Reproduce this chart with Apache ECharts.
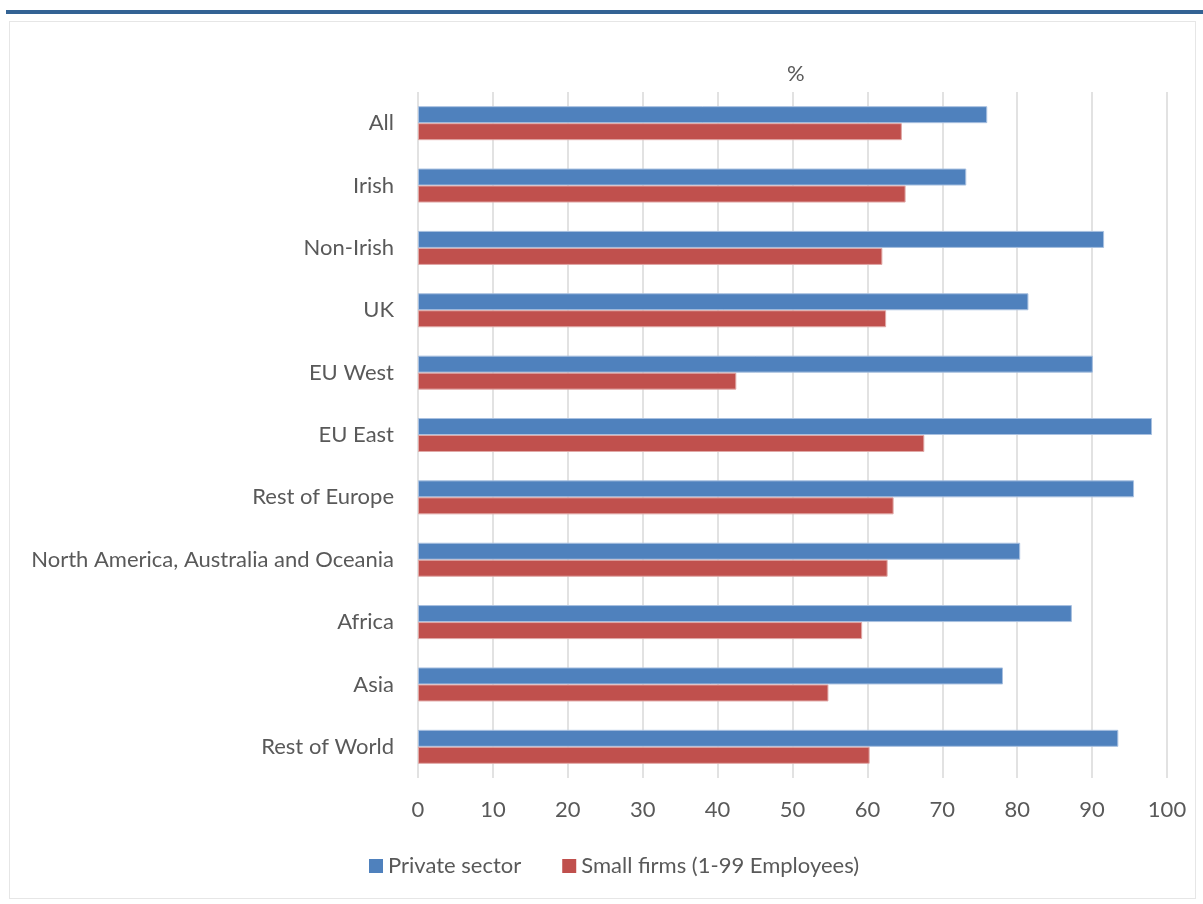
<!DOCTYPE html>
<html>
<head>
<meta charset="utf-8">
<script src="https://cdn.jsdelivr.net/npm/echarts@6/dist/echarts.min.js"></script>
<style>
  html, body { margin: 0; padding: 0; background: #ffffff; }
  #topbar { position: absolute; left: 6px; top: 10px; width: 1197px; height: 4px; background: #336394; }
  #frame { position: absolute; left: 9px; top: 21px; width: 1187px; height: 878px; border: 1px solid #e6e6e6; box-sizing: border-box; }
  #chart { position: absolute; left: 0; top: 0; width: 1203px; height: 904px; }
</style>
</head>
<body>
<div id="topbar"></div>
<div id="frame"></div>
<div id="chart"></div>
<script>
// Groups shown on the vertical axis, top to bottom
const categories = [
  'All', 'Irish', 'Non-Irish', 'UK', 'EU West', 'EU East', 'Rest of Europe',
  'North America, Australia and Oceania', 'Africa', 'Asia', 'Rest of World'
];
// Share (%) for each group
const privateSector = [76.0, 73.2, 91.6, 81.5, 90.1, 98.0, 95.6, 80.4, 87.3, 78.1, 93.5];
const smallFirms    = [64.6, 65.1, 62.0, 62.5, 42.5, 67.6, 63.5, 62.7, 59.3, 54.8, 60.3];
const seriesNames = ['Private sector', 'Small firms (1-99 Employees)'];
const unitLabel = '%';

const FONT = 'Lato, "Open Sans", sans-serif';
const TEXT = '#595959';
const SIZE = 22;

const chart = echarts.init(document.getElementById('chart'), null, { renderer: 'canvas' });
chart.setOption({
  animation: false,
  backgroundColor: 'transparent',
  title: {
    text: unitLabel,
    left: 782,
    top: 58,
    textStyle: { color: TEXT, fontFamily: FONT, fontSize: SIZE, fontWeight: 'normal' }
  },
  legend: {
    data: seriesNames,
    left: 364,
    top: 850,
    itemWidth: 14,
    itemHeight: 14,
    itemGap: 41,
    icon: 'rect',
    itemStyle: { borderWidth: 0 },
    textStyle: { color: TEXT, fontFamily: FONT, fontSize: SIZE }
  },
  grid: { left: 418, right: 36, top: 92, bottom: 126, containLabel: false },
  xAxis: {
    type: 'value',
    min: 0,
    max: 100,
    interval: 10,
    axisLine: { show: false },
    axisTick: { show: false },
    splitLine: { show: true, lineStyle: { color: '#d9d9d9', width: 1.5 } },
    axisLabel: { color: TEXT, fontFamily: FONT, fontSize: SIZE, margin: 21 }
  },
  yAxis: {
    type: 'category',
    data: categories,
    inverse: true,
    axisLine: { show: false },
    axisTick: { show: false },
    axisLabel: { color: TEXT, fontFamily: FONT, fontSize: SIZE, margin: 24 }
  },
  series: [
    {
      name: seriesNames[0],
      type: 'bar',
      data: privateSector,
      barWidth: 17,
      barGap: '0%',
      itemStyle: { color: '#4f81bd', borderColor: '#a8c0e0', borderWidth: 1 }
    },
    {
      name: seriesNames[1],
      type: 'bar',
      data: smallFirms,
      barWidth: 17,
      barGap: '0%',
      itemStyle: { color: '#c0504d', borderColor: '#e0a8a6', borderWidth: 1 }
    }
  ]
});
</script>
</body>
</html>
